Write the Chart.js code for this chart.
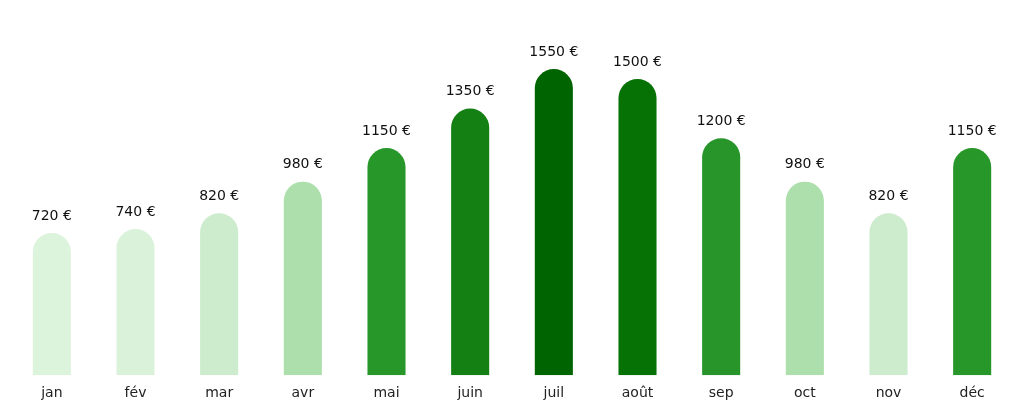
<!DOCTYPE html>
<html>
<head>
<meta charset="utf-8">
<script src="https://cdn.jsdelivr.net/npm/chart.js@4/dist/chart.umd.min.js"></script>
<style>
  html, body { margin: 0; padding: 0; background: #fff; }
  #wrap { width: 1024px; height: 404px; }
</style>
</head>
<body>
<div id="wrap"><canvas id="c"></canvas></div>
<script>
const months = ['jan', 'fév', 'mar', 'avr', 'mai', 'juin', 'juil', 'août', 'sep', 'oct', 'nov', 'déc'];
const amounts = [720, 740, 820, 980, 1150, 1350, 1550, 1500, 1200, 980, 820, 1150];
const barColors = ['#dcf3dc', '#d9f2d9', '#cdebcd', '#acdfab', '#27972a', '#148014', '#006400', '#067206', '#27952a', '#acdfab', '#cdebcd', '#27972a'];

// writes "720 €" above each bar
const valueLabels = {
    id: 'valueLabels',
    afterDatasetsDraw(chart) {
        const ctx = chart.ctx;
        ctx.save();
        ctx.font = '14px "DejaVu Sans"';
        ctx.fillStyle = '#111';
        ctx.textAlign = 'center';
        ctx.textBaseline = 'bottom';
        chart.getDatasetMeta(0).data.forEach((bar, i) => {
            ctx.fillText(amounts[i] + ' €', bar.x, bar.y - 10);
        });
        ctx.restore();
    }
};

new Chart(document.getElementById('c'), {
    type: 'bar',
    data: {
        labels: months,
        datasets: [{
            data: amounts,
            backgroundColor: barColors,
            borderRadius: { topLeft: 19, topRight: 19, bottomLeft: 0, bottomRight: 0 },
            borderSkipped: 'bottom',
            categoryPercentage: 1,
            barPercentage: 0.455,
        }]
    },
    options: {
        responsive: true,
        maintainAspectRatio: false,
        animation: false,
        layout: { padding: { left: 10, right: 10, top: 0, bottom: 0 } },
        plugins: { legend: { display: false }, tooltip: { enabled: false } },
        scales: {
            x: {
                grid: { display: false },
                border: { display: false },
                ticks: { color: '#222', font: { family: 'DejaVu Sans', size: 14 }, padding: 2 }
            },
            y: {
                display: false,
                min: 0,
                max: 1900,
            }
        }
    },
    plugins: [valueLabels]
});
</script>
</body>
</html>
